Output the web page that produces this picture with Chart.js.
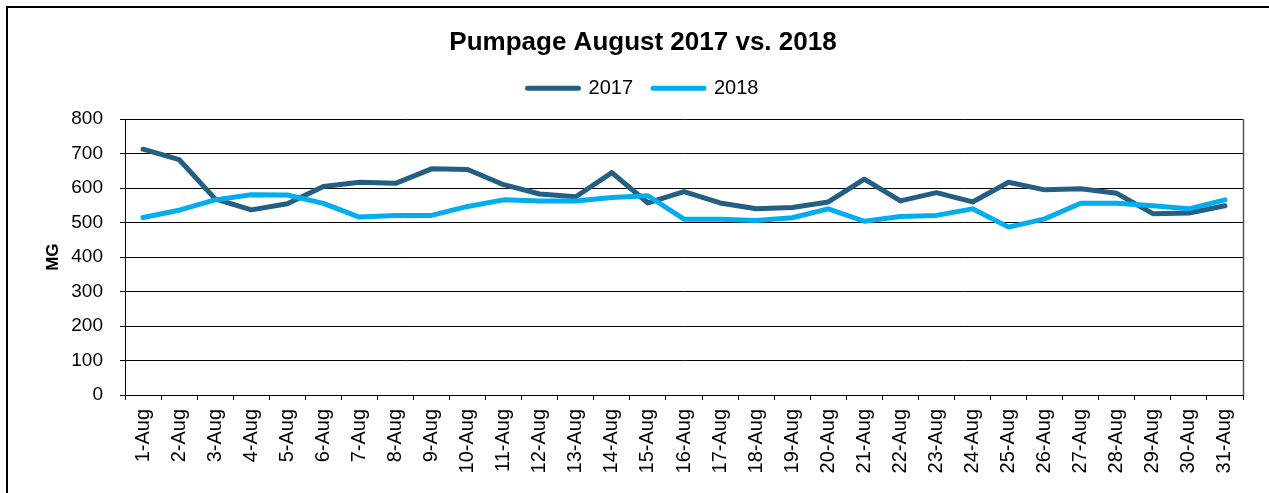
<!DOCTYPE html>
<html>
<head>
<meta charset="utf-8">
<script src="https://cdn.jsdelivr.net/npm/chart.js@4.4.1/dist/chart.umd.min.js"></script>
<style>
  html, body { margin: 0; padding: 0; background: #fff; }
  body { width: 1269px; height: 493px; overflow: hidden; position: relative; }
  #frame { position: absolute; left: 6px; top: 6px; width: 1400px; height: 700px; border: 2px solid #000; box-sizing: border-box; }
  #wrap { position: absolute; left: 0; top: 0; width: 1269px; height: 493px; }
</style>
</head>
<body>
<div id="frame"></div>
<div id="wrap"><canvas id="c" width="1269" height="493"></canvas></div>
<script>
const categories = ['1-Aug','2-Aug','3-Aug','4-Aug','5-Aug','6-Aug','7-Aug','8-Aug','9-Aug','10-Aug',
  '11-Aug','12-Aug','13-Aug','14-Aug','15-Aug','16-Aug','17-Aug','18-Aug','19-Aug','20-Aug',
  '21-Aug','22-Aug','23-Aug','24-Aug','25-Aug','26-Aug','27-Aug','28-Aug','29-Aug','30-Aug','31-Aug'];
const values2017 = [713, 683, 569, 537, 555, 605, 617, 614, 656, 654,
  610, 583, 575, 645, 557, 590, 557, 540, 544, 560,
  626, 563, 587, 560, 617, 595, 598, 585, 526, 528, 549];
const values2018 = [515, 536, 566, 581, 580, 556, 516, 521, 521, 547,
  566, 563, 563, 573, 578, 510, 510, 506, 514, 540,
  504, 518, 521, 540, 487, 511, 556, 556, 549, 540, 566];
const yTicks = [0, 100, 200, 300, 400, 500, 600, 700, 800];

const FONT = "Arial, 'Liberation Sans', sans-serif";
const C2017 = '#245F83';
const C2018 = '#00AEEF';

const rightBorder = {
  id: 'rightBorder',
  afterDatasetsDraw(chart) {
    const {ctx, chartArea} = chart;
    ctx.save();
    ctx.strokeStyle = '#555';
    ctx.lineWidth = 1.5;
    ctx.beginPath();
    ctx.moveTo(chartArea.right + 0.5, chartArea.top);
    ctx.lineTo(chartArea.right + 0.5, chartArea.bottom);
    ctx.stroke();
    ctx.restore();
  }
};

new Chart(document.getElementById('c'), {
  type: 'line',
  data: {
    labels: categories,
    datasets: [
      { label: '2017', data: values2017, borderColor: C2017, backgroundColor: C2017,
        borderWidth: 5, pointRadius: 0, tension: 0, borderCapStyle: 'round', borderJoinStyle: 'round', order: 2, fill: false },
      { label: '2018', data: values2018, borderColor: C2018, backgroundColor: C2018,
        borderWidth: 5, pointRadius: 0, tension: 0, borderCapStyle: 'round', borderJoinStyle: 'round', order: 1, fill: false }
    ]
  },
  options: {
    responsive: false,
    animation: false,
    devicePixelRatio: 1,
    layout: { padding: { top: 10, left: 43, right: 26, bottom: 0 } },
    plugins: {
      title: {
        display: true, text: 'Pumpage August 2017 vs. 2018', color: '#000',
        font: { family: FONT, size: 26, weight: 'bold', lineHeight: 1.2 },
        padding: { top: 17, bottom: 0 }
      },
      legend: {
        display: true, position: 'top',
        labels: {
          color: '#000', font: { family: FONT, size: 20 },
          boxWidth: 51, boxHeight: 0, padding: 20,
          sort: (a, b) => a.datasetIndex - b.datasetIndex
        }
      },
      subtitle: {
        display: true, text: '', weight: 500,
        font: { size: 11, lineHeight: 1 }, padding: 0
      },
      tooltip: { enabled: false }
    },
    scales: {
      x: {
        type: 'category',
        offset: true,
        grid: { display: true, drawOnChartArea: false, offset: true, tickLength: 5, color: '#000', lineWidth: 1 },
        border: { display: true, color: '#000', width: 1 },
        ticks: { color: '#000', font: { family: FONT, size: 20 }, minRotation: 90, maxRotation: 90, padding: 9, autoSkip: false },
        afterFit(scale) { scale.height = 98; }
      },
      y: {
        min: 0, max: 800,
        afterBuildTicks(scale) { scale.ticks = yTicks.map(v => ({ value: v })); },
        grid: { color: '#000', lineWidth: 1, tickLength: 5, drawTicks: true },
        border: { display: true, color: '#000', width: 1 },
        ticks: { color: '#000', font: { family: FONT, size: 19 }, padding: 17 },
        title: { display: true, text: 'MG', color: '#000', font: { family: FONT, size: 17, weight: 'bold', lineHeight: 1.2 }, padding: 0 },
        afterFit(scale) { scale.width = 82; }
      }
    }
  },
  plugins: [rightBorder]
});
</script>
</body>
</html>
